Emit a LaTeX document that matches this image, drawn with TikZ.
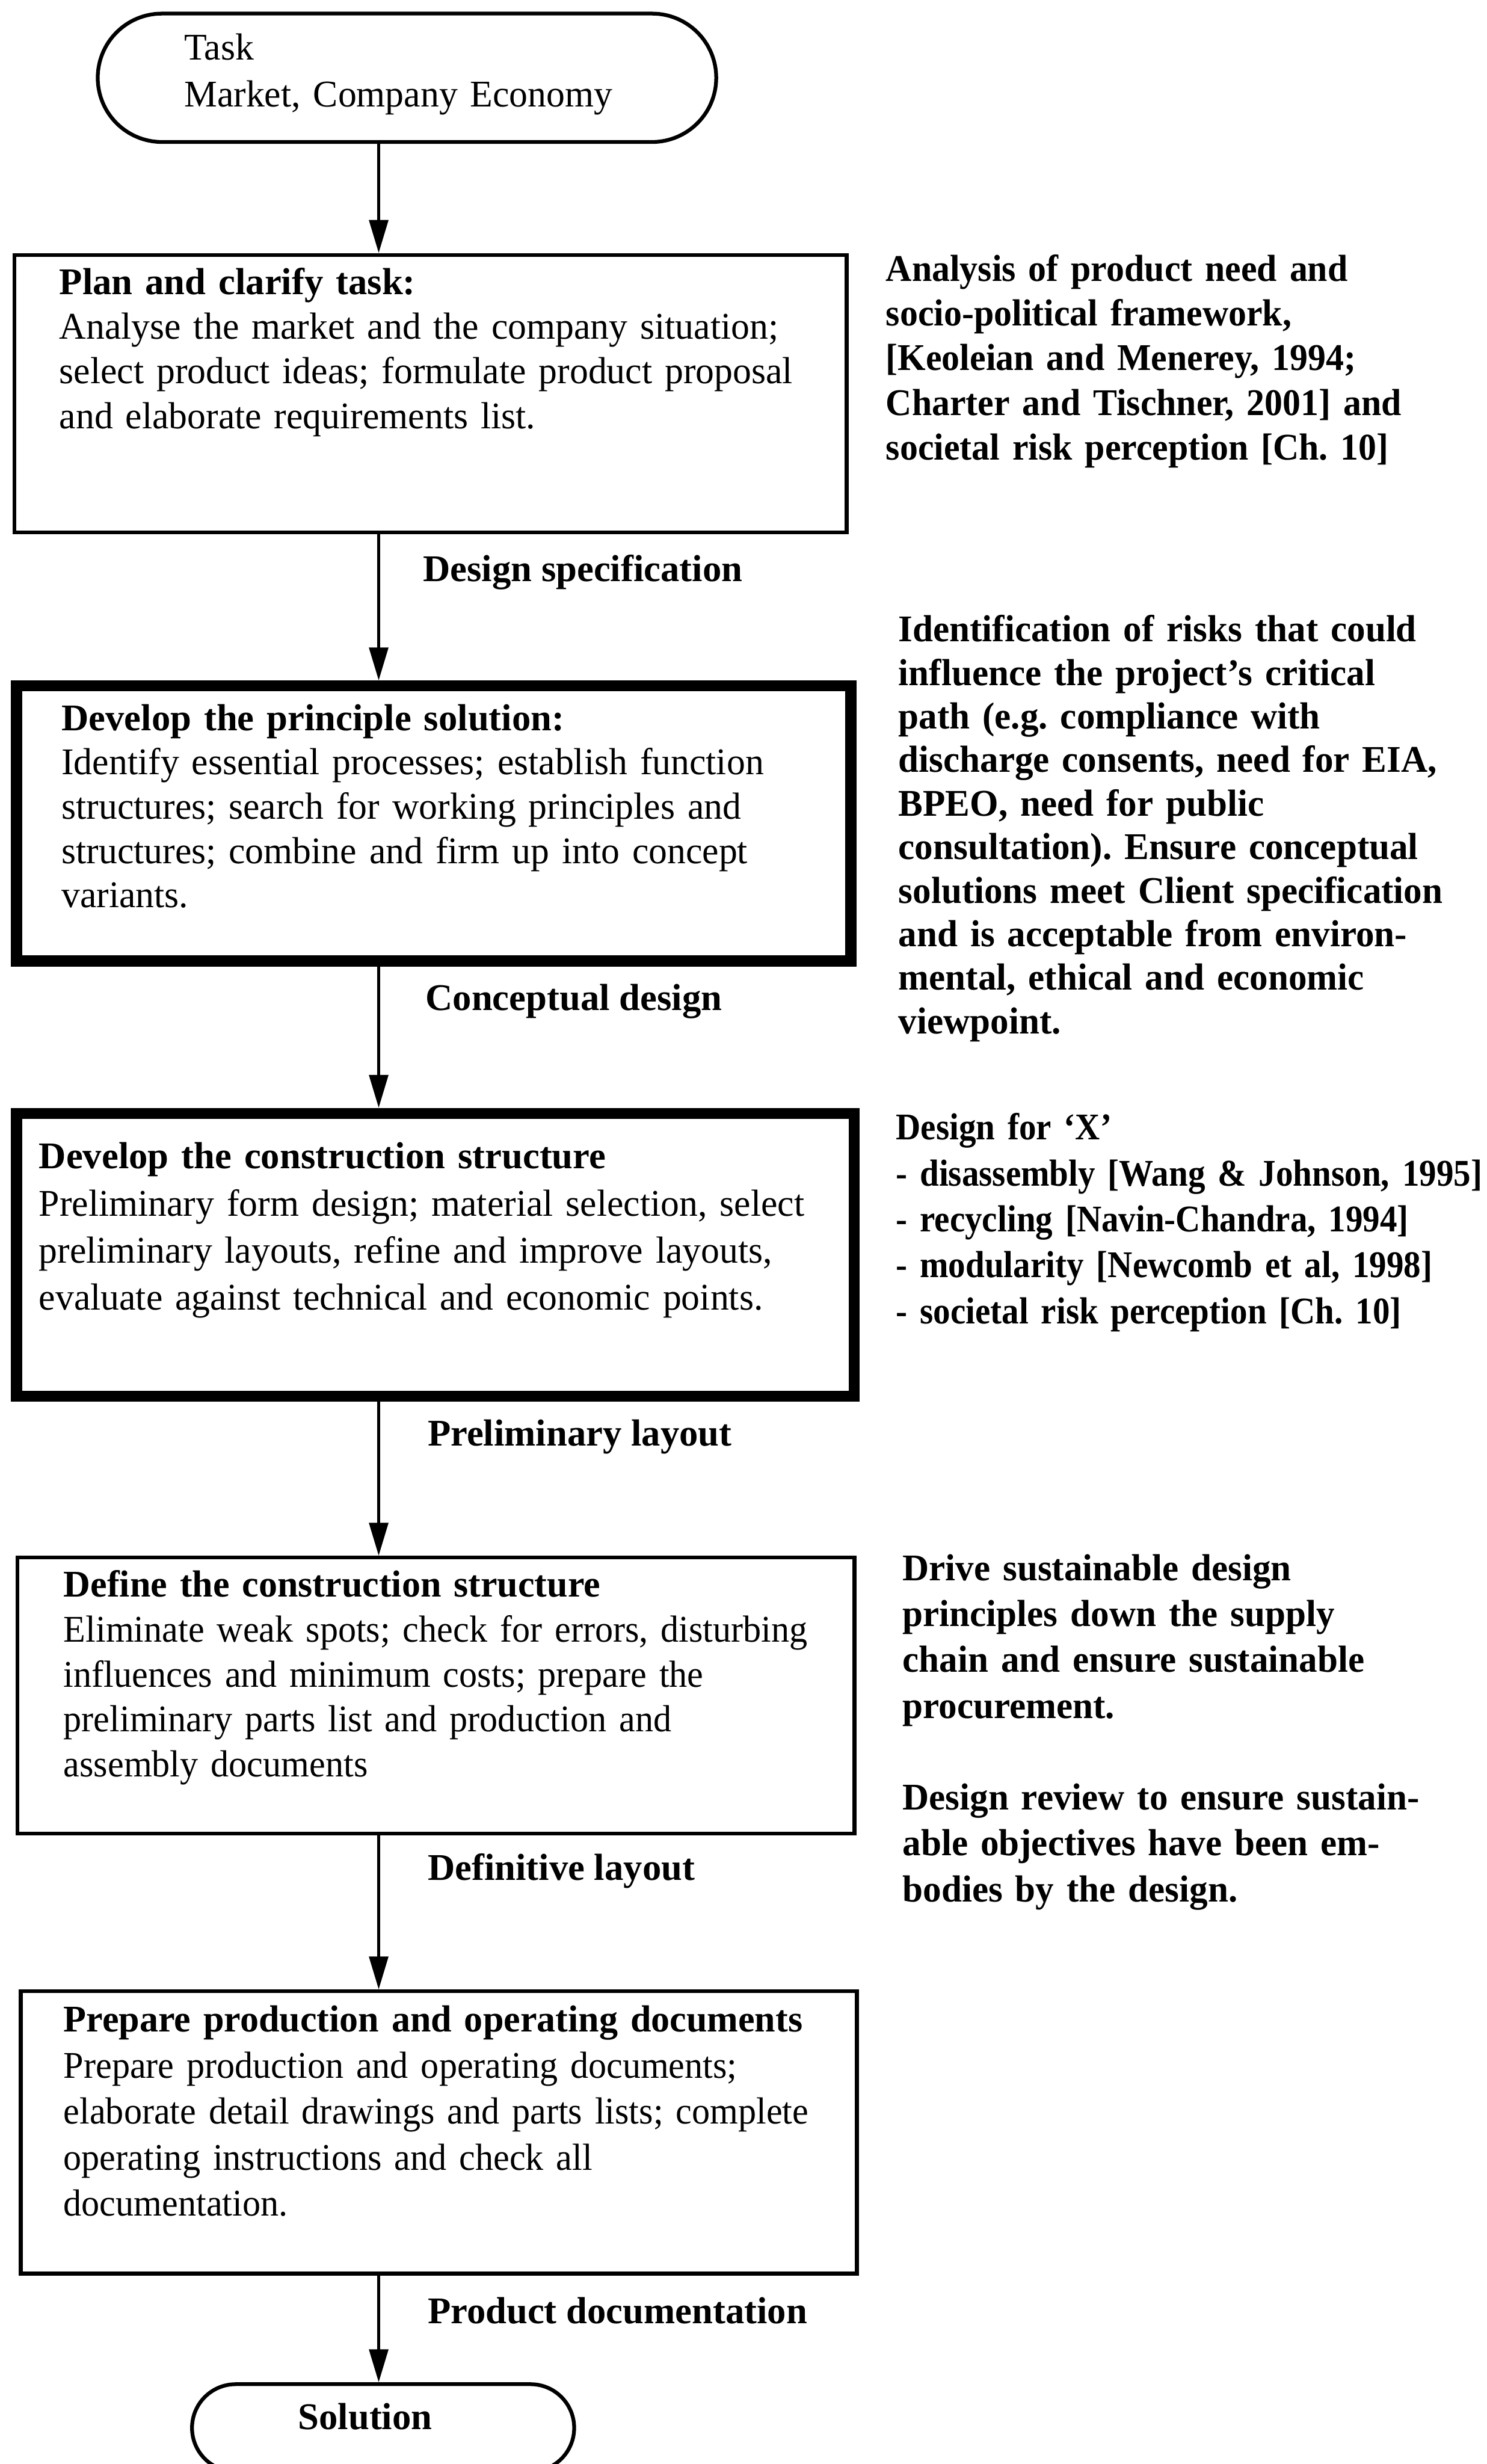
\documentclass[tikz,border=0pt]{standalone}
\usepackage{fontspec}
\setmainfont{Liberation Serif}[UprightFeatures={FakeStretch=0.985}]
\newfontfamily\tightserif{Liberation Serif}[UprightFeatures={FakeStretch=0.96},BoldFeatures={FakeStretch=0.99}]
\newfontfamily\noteserif{Liberation Serif}[FakeStretch=0.975]
\newfontfamily\slimserif{Liberation Serif}[FakeStretch=0.955]
\newfontfamily\narrowserif{Liberation Serif}[FakeStretch=0.91]
\usetikzlibrary{arrows.meta,shapes.misc}

\begin{document}
\frenchspacing
\begin{tikzpicture}[x=1pt,y=-1pt,
  stage/.style={draw, rectangle, line width=2.4pt, inner sep=0pt},
  keystage/.style={stage, line width=7pt},
  terminal/.style={draw, rounded rectangle, line width=2.4pt, inner sep=0pt},
  flow/.style={line width=2pt, -{Triangle[length=21pt,width=12pt]}},
  lead/.style={font=\fontsize{24}{#1}\selectfont},
  tightlead/.style={font=\fontsize{24}{#1}\selectfont\tightserif},
  body/.style={anchor=base west, inner sep=0pt, text width=520pt, align=left, lead=29},
  note/.style={body, text width=400pt},
  flowlabel/.style={anchor=base west, inner sep=0pt, font=\fontsize{24}{29}\selectfont\bfseries}
]
\useasboundingbox (0,0) rectangle (946,1568);

% start terminal
\node[terminal, minimum width=393.6pt, minimum height=81.7pt] (task) at (259,49.5) {};
\node[body, lead=30] (tasktxt) at (117,38) {Task\\Market, Company Economy};

% process stages
\node[stage, minimum width=529.6pt, minimum height=176.6pt] (plan) at (274,250.5) {};
\node[body, lead=28.4] (plantxt) at (37.6,187.4)
  {\textbf{Plan and clarify task:}\\
   Analyse the market and the company situation;\\
   select product ideas; formulate product proposal\\
   and elaborate requirements list.};

\node[keystage, minimum width=531pt, minimum height=175pt] (concept) at (276,524) {};
\node[body, lead=28.2] (concepttxt) at (39,464.8)
  {\textbf{Develop the principle solution:}\\
   Identify essential processes; establish function\\
   structures; search for working principles and\\
   structures; combine and firm up into concept\\
   variants.};

\node[keystage, minimum width=533pt, minimum height=180pt] (embody) at (277,798.5) {};
\node[body, lead=30] (embodytxt) at (24.6,743.7)
  {\textbf{Develop the construction structure}\\
   Preliminary form design; material selection, select\\
   preliminary layouts, refine and improve layouts,\\
   evaluate against technical and economic points.};

\node[stage, minimum width=532.6pt, minimum height=175.6pt] (detail) at (277.5,1079) {};
\node[body, tightlead=28.7] (detailtxt) at (40.3,1016)
  {\textbf{Define the construction structure}\\
   Eliminate weak spots; check for errors, disturbing\\
   influences and minimum costs; prepare the\\
   preliminary parts list and production and\\
   assembly documents};

\node[stage, minimum width=532.1pt, minimum height=179.6pt] (docs) at (279.25,1357) {};
\node[body, tightlead=29.3] (docstxt) at (40.3,1293)
  {\textbf{Prepare production and operating documents}\\
   Prepare production and operating documents;\\
   elaborate detail drawings and parts lists; complete\\
   operating instructions and check all\\
   documentation.};

% end terminal
\node[terminal, minimum width=243.2pt, minimum height=55.6pt] (solution) at (243.8,1545) {};
\node[flowlabel, anchor=base] (solutiontxt) at (232.4,1546) {Solution};

% connectors
\coordinate (spine) at (241,0);
\draw[flow] (task.south -| spine) -- (plan.north -| spine);
\draw[flow] (plan.south -| spine) -- (concept.north -| spine);
\draw[flow] (concept.south -| spine) -- (embody.north -| spine);
\draw[flow] (embody.south -| spine) -- (detail.north -| spine);
\draw[flow] (detail.south -| spine) -- (docs.north -| spine);
\draw[flow] (docs.south -| spine) -- (solution.north -| spine);

% outputs of each stage
\node[flowlabel] (spec) at (269,370) {Design specification};
\node[flowlabel] (cdesign) at (270.6,643) {Conceptual design};
\node[flowlabel] (prelim) at (272,920) {Preliminary layout};
\node[flowlabel] (definitive) at (272,1196.5) {Definitive layout};
\node[flowlabel] (product) at (272,1478.5) {Product documentation};

% sustainability notes
\node[note, font=\fontsize{24}{28.5}\selectfont\slimserif\bfseries] (need) at (563.6,178.8)
  {Analysis of product need and\\
   socio-political framework,\\
   {[}Keoleian and Menerey, 1994;\\
   Charter and Tischner, 2001] and\\
   societal risk perception [Ch. 10]};

\node[note, font=\fontsize{24}{27.7}\selectfont\noteserif\bfseries] (risk) at (571.6,408.4)
  {Identification of risks that could\\
   influence the project’s critical\\
   path (e.g. compliance with\\
   discharge consents, need for EIA,\\
   BPEO, need for public\\
   consultation). Ensure conceptual\\
   solutions meet Client specification\\
   and is acceptable from environ-\\
   mental, ethical and economic\\
   viewpoint.};

\node[note, font=\fontsize{24}{29.2}\selectfont\narrowserif\bfseries] (dfx) at (570,725.4)
  {Design for ‘X’\\
   - disassembly [Wang \& Johnson, 1995]\\
   - recycling [Navin-Chandra, 1994]\\
   - modularity [Newcomb et al, 1998]\\
   - societal risk perception [Ch. 10]};

\node[note, font=\fontsize{24}{29.2}\selectfont\noteserif\bfseries] (supply) at (574.2,1005.7)
  {Drive sustainable design\\
   principles down the supply\\
   chain and ensure sustainable\\
   procurement.\\[29.2pt]
   Design review to ensure sustain-\\
   able objectives have been em-\\
   bodies by the design.};
\end{tikzpicture}
\end{document}
